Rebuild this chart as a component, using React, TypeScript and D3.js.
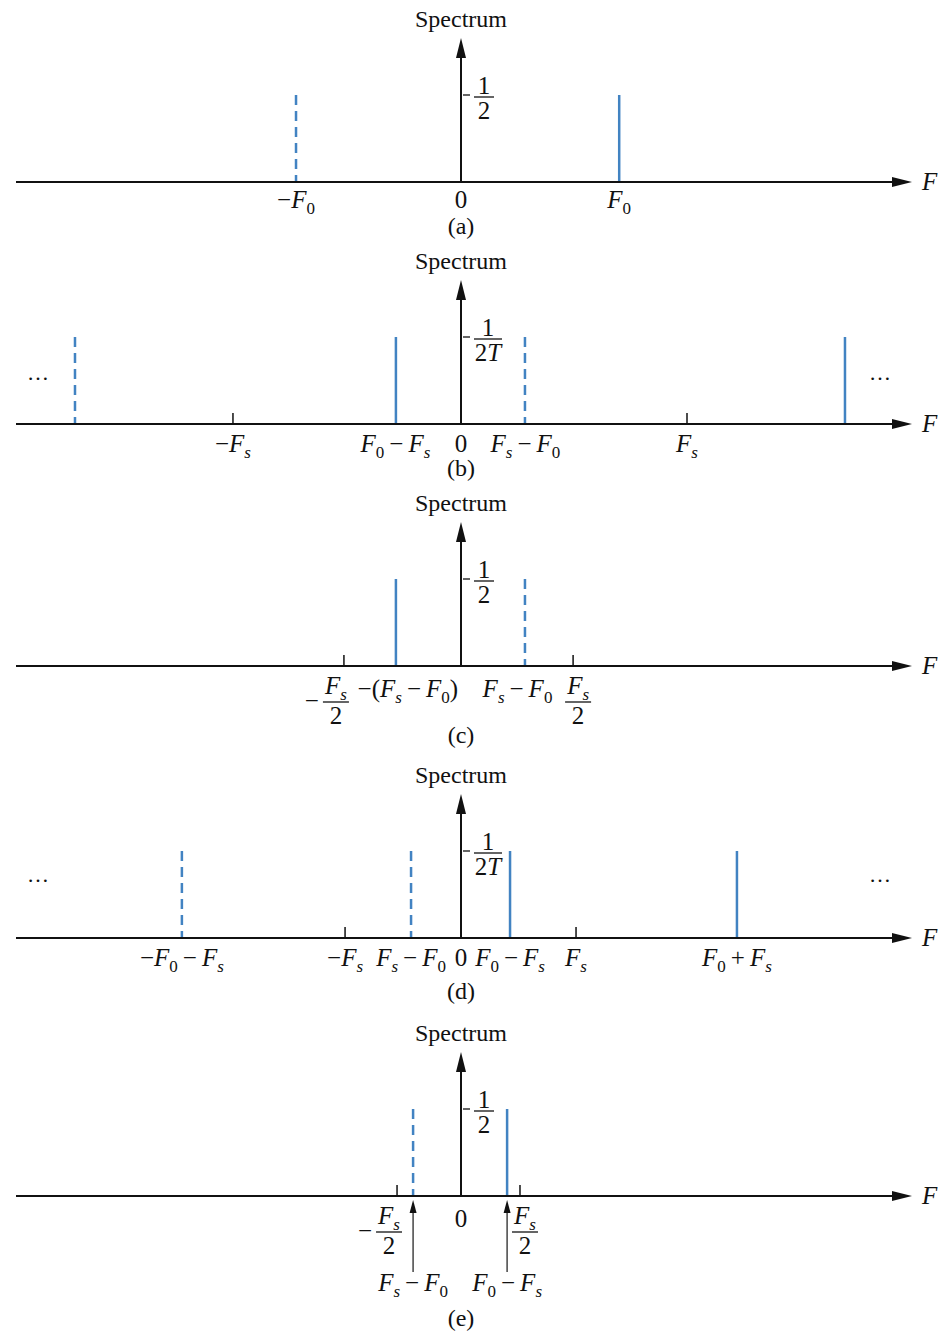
import React from 'react';
import * as d3 from 'd3';

// frequencies, in units where Fs of panel (b) = 1
const solidA = [0.7];
const dashedA = [-0.73];
const labelsA = [
  { f: -0.73, t: '−F0' },
  { f: 0, t: '0' },
  { f: 0.7, t: 'F0' },
];

const solidB = [-0.288, 1.699];
const dashedB = [-1.708, 0.283];
const ticksB = [-1.009, 1.0];
const labelsB = [
  { f: -1.009, t: '−Fs' },
  { f: -0.29, t: 'F0−Fs' },
  { f: 0, t: '0' },
  { f: 0.285, t: 'Fs−F0' },
  { f: 1.0, t: 'Fs' },
];

const solidC = [-0.288];
const dashedC = [0.283];
const ticksC = [-0.518, 0.496];
const labelsC = [
  { f: -0.235, t: '−(Fs−F0)' },
  { f: 0.25, t: 'Fs−F0' },
];
const fracsC = [
  { f: -0.518, neg: true },
  { f: 0.496, neg: false },
];

const solidD = [0.217, 1.221];
const dashedD = [-1.235, -0.221];
const ticksD = [-0.513, 0.509];
const labelsD = [
  { f: -1.235, t: '−F0−Fs' },
  { f: -0.513, t: '−Fs' },
  { f: -0.221, t: 'Fs−F0' },
  { f: 0, t: '0' },
  { f: 0.217, t: 'F0−Fs' },
  { f: 0.509, t: 'Fs' },
  { f: 1.221, t: 'F0+Fs' },
];

const solidE = [0.204];
const dashedE = [-0.212];
const ticksE = [-0.283, 0.261];
const labelsE = [{ f: 0, t: '0' }];
const fracsE = [
  { f: -0.283, neg: true },
  { f: 0.261, neg: false },
];
const pointersE = [
  { f: -0.212, t: 'Fs−F0' },
  { f: 0.204, t: 'F0−Fs' },
];

const AMPLITUDE = 0.5;

const panels = [
  { id: 'a', axisY: 182, labelDy: 26, captionY: 234, dotsDy: 0, num: '1', den: '2', solid: solidA, dashed: dashedA, ticks: [], labels: labelsA, fracs: [], pointers: [] },
  { id: 'b', axisY: 424, labelDy: 28, captionY: 476, dotsDy: 44, num: '1', den: '2T', solid: solidB, dashed: dashedB, ticks: ticksB, labels: labelsB, fracs: [], pointers: [] },
  { id: 'c', axisY: 666, labelDy: 31, captionY: 743, dotsDy: 0, num: '1', den: '2', solid: solidC, dashed: dashedC, ticks: ticksC, labels: labelsC, fracs: fracsC, pointers: [] },
  { id: 'd', axisY: 938, labelDy: 28, captionY: 999, dotsDy: 56, num: '1', den: '2T', solid: solidD, dashed: dashedD, ticks: ticksD, labels: labelsD, fracs: [], pointers: [] },
  { id: 'e', axisY: 1196, labelDy: 31, captionY: 1326, dotsDy: 0, num: '1', den: '2', solid: solidE, dashed: dashedE, ticks: ticksE, labels: labelsE, fracs: fracsE, pointers: pointersE },
];

const W = 938;
const H = 1333;
const X0 = 461;
const FONT = 'Liberation Serif, Times New Roman, serif';
const SIZE = 25;
const BLUE = '#4283c2';
const INK = '#111';

const x = d3.scaleLinear().domain([-1, 1]).range([X0 - 226, X0 + 226]);

type Part = { t: string; italic: boolean; sub: boolean };

function parse(s: string): Part[] {
  const parts: Part[] = [];
  for (let i = 0; i < s.length; i++) {
    const c = s[i];
    if (c === 'F' || c === 'T') {
      parts.push({ t: c, italic: true, sub: false });
      const n = s[i + 1];
      if (c === 'F' && (n === '0' || n === 's')) {
        parts.push({ t: n, italic: n === 's', sub: true });
        i++;
      }
    } else if ((c === '−' || c === '+') && i > 0 && s[i - 1] !== '(') {
      // binary operator gets a little room either side
      parts.push({ t: '\u2009' + c + '\u2009', italic: false, sub: false });
    } else {
      parts.push({ t: c, italic: false, sub: false });
    }
  }
  return parts;
}

function MathText({ x, y, s, size = SIZE, anchor = 'middle' }: { x: number; y: number; s: string; size?: number; anchor?: string }) {
  let cur = 0;
  const parts = parse(s);
  return (
    <text x={x} y={y} textAnchor={anchor} fontFamily={FONT} fontSize={size} fill={INK}>
      {parts.map((p, k) => {
        const target = p.sub ? 6 : 0;
        const dy = target - cur;
        cur = target;
        return (
          <tspan key={k} dy={dy} fontSize={p.sub ? size * 0.68 : size} fontStyle={p.italic ? 'italic' : 'normal'}>
            {p.t}
          </tspan>
        );
      })}
    </text>
  );
}

function Frac({ cx, bar, num, den, w, numUp = 4 }: { cx: number; bar: number; num: string; den: string; w: number; numUp?: number }) {
  return (
    <g>
      <MathText x={cx} y={bar - numUp} s={num} />
      <line x1={cx - w / 2} x2={cx + w / 2} y1={bar} y2={bar} stroke={INK} strokeWidth={1.3} />
      <MathText x={cx} y={bar + 22} s={den} />
    </g>
  );
}

function Panel({ p }: { p: (typeof panels)[number] }) {
  const y = d3.scaleLinear().domain([0, AMPLITUDE]).range([p.axisY, p.axisY - 87]);
  const top = p.axisY - 144;
  const hx = 912;
  return (
    <g>
      {/* spectrum label and vertical axis */}
      <text x={X0} y={p.axisY - 155} textAnchor="middle" fontFamily={FONT} fontSize={24} fill={INK}>
        Spectrum
      </text>
      <line x1={X0} x2={X0} y1={p.axisY} y2={top + 12} stroke={INK} strokeWidth={2} />
      <path d={`M${X0},${top} L${X0 - 5},${top + 20} L${X0 + 5},${top + 20} Z`} fill={INK} />

      {/* horizontal axis */}
      <line x1={16} x2={hx - 10} y1={p.axisY} y2={p.axisY} stroke={INK} strokeWidth={2} />
      <path d={`M${hx},${p.axisY} L${hx - 20},${p.axisY - 5} L${hx - 20},${p.axisY + 5} Z`} fill={INK} />
      <MathText x={922} y={p.axisY + 8} s="F" anchor="start" />

      {/* amplitude tick */}
      <line x1={X0 + 2} x2={X0 + 9} y1={y(AMPLITUDE)} y2={y(AMPLITUDE)} stroke={INK} strokeWidth={1.3} />
      <Frac cx={p.den === '2' ? 484 : 488} bar={y(AMPLITUDE) + 2} num={p.num} den={p.den} w={p.den === '2' ? 20 : 28} numUp={3} />

      {/* frequency ticks */}
      {p.ticks.map((f, i) => (
        <line key={i} x1={x(f)} x2={x(f)} y1={p.axisY} y2={p.axisY - 11} stroke={INK} strokeWidth={1.5} />
      ))}

      {/* impulses */}
      {p.solid.map((f, i) => (
        <line key={'s' + i} x1={x(f)} x2={x(f)} y1={y(0) - 1} y2={y(AMPLITUDE)} stroke={BLUE} strokeWidth={2.5} />
      ))}
      {p.dashed.map((f, i) => (
        <line key={'d' + i} x1={x(f)} x2={x(f)} y1={y(AMPLITUDE)} y2={y(0) - 1} stroke={BLUE} strokeWidth={2.5} strokeDasharray="10,6" />
      ))}

      {/* labels */}
      {p.labels.map((l, i) => (
        <MathText key={i} x={x(l.f)} y={p.axisY + p.labelDy} s={l.t} />
      ))}
      {p.fracs.map((fr, i) => {
        const cx = x(fr.f) + (fr.neg ? -8 : 5);
        const bar = p.axisY + 36;
        return (
          <g key={'f' + i}>
            {fr.neg && (
              <text x={cx - 17} y={bar + 7} textAnchor="end" fontFamily={FONT} fontSize={SIZE} fill={INK}>
                −
              </text>
            )}
            <Frac cx={cx} bar={bar} num="Fs" den="2" w={26} numUp={8} />
          </g>
        );
      })}
      {p.pointers.map((pt, i) => {
        const px = x(pt.f);
        const y1 = p.axisY + 4;
        return (
          <g key={'p' + i}>
            <line x1={px} x2={px} y1={p.axisY + 76} y2={y1 + 10} stroke="#444" strokeWidth={1.5} />
            <path d={`M${px},${y1} L${px - 3.5},${y1 + 13} L${px + 3.5},${y1 + 13} Z`} fill={INK} />
            <MathText x={px} y={p.axisY + 95} s={pt.t} />
          </g>
        );
      })}

      {p.dotsDy > 0 && (
        <>
          <text x={38} y={p.axisY - p.dotsDy} textAnchor="middle" fontFamily={FONT} fontSize={22} fill={INK}>…</text>
          <text x={880} y={p.axisY - p.dotsDy} textAnchor="middle" fontFamily={FONT} fontSize={22} fill={INK}>…</text>
        </>
      )}

      <text x={X0} y={p.captionY} textAnchor="middle" fontFamily={FONT} fontSize={24} fill={INK}>
        ({p.id})
      </text>
    </g>
  );
}

export default function App() {
  return (
    <svg width={W} height={H} style={{ position: 'absolute', left: 0, top: 0, background: '#fff' }}>
      {panels.map((p) => (
        <Panel key={p.id} p={p} />
      ))}
    </svg>
  );
}
